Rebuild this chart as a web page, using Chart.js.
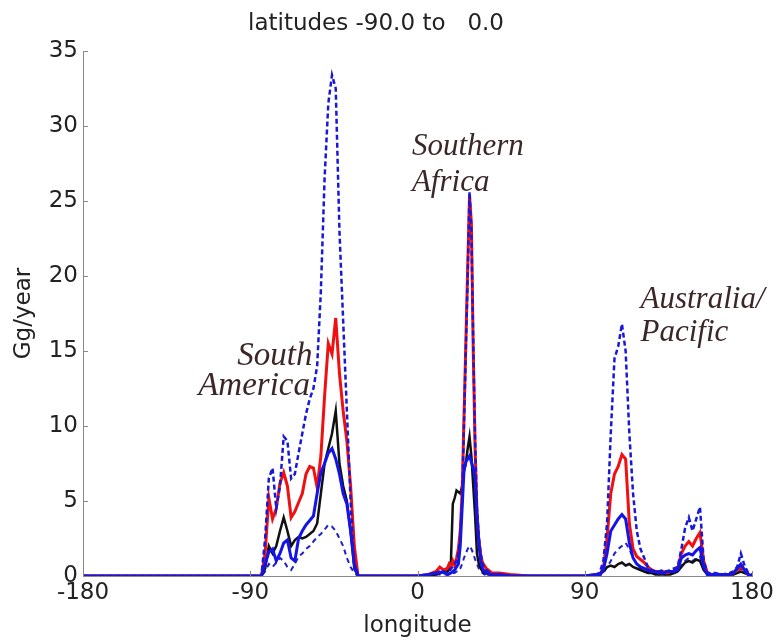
<!DOCTYPE html>
<html><head><meta charset="utf-8">
<script src="https://cdn.jsdelivr.net/npm/chart.js@4.4.1/dist/chart.umd.min.js"></script>
<style>html,body{margin:0;padding:0;background:#fff;}#wrap{width:778px;height:641px;}</style>
</head><body><div id="wrap"><canvas id="c" width="778" height="641"></canvas></div>
<script>
// longitude grid (degrees)
const lon = [
  -180,-160,-140,-120,-100,-90,-86,
  -84,-82,-80,-78,-76,-74,-72,-70,-68,-66,-64,-62,-60,-58,-56,-54,-52,-50,-48,-46,-44,-42,-40,-38,-36,-34,-32,
  -28,-20,-10,0,6,10,12,14,
  16,17,18,19,20,21,22,23,24,25,26,27,28,29,30,31,32,33,34,35,36,37,38,39,40,
  44,50,60,70,80,90,96,
  98,100,102,104,106,108,110,112,114,116,118,120,122,124,126,128,130,132,134,136,138,140,142,144,146,148,150,152,154,156,158,160,
  164,168,170,172,174,176,178,180
];
// upper blue dashed series
const blueDashedHigh = [
  0,0,0,0,0,0,0,
  0,2.5,6.5,7.2,4.5,6,9.3,9,6.5,6.8,8.2,9.5,10.8,11.8,12.5,14,19,26.5,31.5,33.4,32.5,23,17,11,5,0.5,0,
  0,0,0,0,0.1,0.2,0.3,0.2,
  0.2,0.3,0.5,0.6,0.8,1.0,1.5,2.6,5,10,15,20,25.6,23,15.5,9,4.5,2.6,1.5,0.8,0.5,0.4,0.3,0.2,0.1,
  0.1,0,0,0,0,0,0.1,
  0.2,1,3.5,9.5,14.5,15.3,16.8,15,9.5,5.5,3,1.8,1.2,0.6,0.4,0.3,0.3,0.4,0.3,0.4,0.5,0.6,1.8,3.2,3.9,3,3.8,4.6,1,0.2,0.2,0.2,
  0.1,0.2,0.3,0.6,1.5,0.7,0.2,0.1
];
// red solid series
const redSolid = [
  0,0,0,0,0,0,0,
  0,1.5,5.2,3.8,4.5,6.2,6.9,6,3.9,4.3,4.9,5.5,6.8,7.3,7.2,5.9,8,12,15.5,14.8,17.2,13.5,11,9,6,2,0,
  0,0,0,0,0.1,0.3,0.6,0.4,
  0.5,0.8,0.6,1.0,0.7,1.2,1.8,3.0,5.5,10.5,15.5,20.5,25.4,23.5,15,8.5,4.2,2.4,1.4,0.9,0.7,0.5,0.4,0.3,0.2,
  0.2,0.1,0,0,0,0,0.1,
  0.1,0.5,2.5,5.5,6.8,7.3,8.1,7.8,3.5,1.8,1.3,1.1,0.9,0.6,0.4,0.3,0.3,0.3,0.2,0.3,0.3,0.5,1.5,2,2.3,2,2.5,2.9,1,0.2,0.1,0.1,
  0,0.1,0.2,0.4,0.6,0.4,0.1,0
];
// black solid series
const blackSolid = [
  0,0,0,0,0,0,0,
  0,0.5,2,1.5,2,3,3.9,3,2,2.4,2.6,2.5,2.6,2.8,3,3.5,5.5,7.5,8.5,9.5,11,7.5,6,5,3,0.5,0,
  0,0,0,0,0,0.1,0.2,0.3,
  0.3,0.4,1.0,4.8,5.2,5.7,5.6,5.5,6.0,7.0,7.5,8.5,9.3,8.0,6.0,4.0,1.5,0.8,0.5,0.3,0.2,0.2,0.1,0.1,0.1,
  0.1,0,0,0,0,0,0,
  0.1,0.3,0.6,0.7,0.6,0.8,0.9,0.7,0.8,0.6,0.5,0.4,0.3,0.2,0.2,0.1,0.1,0.1,0.1,0.1,0.2,0.3,0.6,0.9,1.0,0.9,1.1,1.0,0.4,0.1,0,0,
  0,0.1,0.1,0.2,0.3,0.2,0.1,0
];
// blue solid series
const blueSolid = [
  0,0,0,0,0,0,0,
  0,0.8,1.6,1.8,1.0,1.5,2.2,2.4,1.2,1.0,2.5,3,3.4,3.7,4,5.5,6.9,7.5,8.2,8.5,7.8,6.8,5.5,4.8,3,0.8,0,
  0,0,0,0,0.1,0.2,0.2,0.3,
  0.1,0.15,0.2,0.3,0.4,0.6,0.8,2.0,4.5,7.0,7.6,7.8,8.0,7.6,7.2,6.5,4.0,2.2,1.0,0.5,0.3,0.2,0.2,0.1,0.1,
  0.1,0,0,0,0,0,0.1,
  0.1,0.4,1.5,3,3.4,3.8,4.1,3.8,2.2,1.2,0.8,0.6,0.5,0.4,0.3,0.3,0.2,0.2,0.3,0.3,0.3,0.4,1.2,1.4,1.5,1.4,1.7,1.9,0.6,0.1,0.1,0.1,
  0.1,0.1,0.2,0.5,0.8,0.4,0.1,0
];
// lower blue dashed series
const blueDashedLow = [
  0,0,0,0,0,0,0,
  0,0.3,0.8,0.6,0.9,1.2,1.0,0.6,0.4,0.8,1.3,1.5,1.8,2.0,2.3,2.6,2.8,3.1,3.4,3.3,3.0,2.5,2.0,1.2,0.6,0.2,0,
  0,0,0,0,0,0.1,0.1,0.1,
  0.1,0.1,0.1,0.2,0.2,0.3,0.3,0.5,0.8,1.2,1.5,1.8,2.0,1.8,1.5,1.1,0.8,0.5,0.3,0.2,0.1,0.1,0.1,0.1,0,
  0,0,0,0,0,0,0,
  0,0.2,0.6,1,1.5,1.8,2,2.2,1.8,1.2,0.8,0.5,0.4,0.3,0.2,0.2,0.1,0.1,0.1,0.2,0.2,0.3,0.7,1,1.2,1,1.2,1.3,0.4,0.1,0,0,
  0,0.1,0.1,0.3,0.5,0.3,0.1,0
];
const xTicks = [-180, -90, 0, 90, 180];
const yTicks = [0, 5, 10, 15, 20, 25, 30, 35];
const regionNames = ['South', 'America', 'Southern', 'Africa', 'Australia/', 'Pacific'];

const pts = arr => lon.map((x, i) => ({x: x, y: arr[i]}));
const FONT = "'DejaVu Sans', 'Liberation Sans', sans-serif";

const labelPlugin = {
  id: 'regionLabels',
  afterDatasetsDraw(chart) {
    const {ctx, scales: {x, y}} = chart;
    const anchors = [[-97, 14.1], [-118, 12.1], [-3, 28.1], [-3, 25.7], [120, 17.9], [120, 15.7]];
    ctx.save();
    ctx.fillStyle = '#3b2727';
    ctx.textBaseline = 'alphabetic';
    ctx.textAlign = 'left';
    regionNames.forEach((t, i) => {
      ctx.font = (i < 2 ? "italic 33px " : "italic 31px ") + "'Liberation Serif', 'DejaVu Serif', serif";
      ctx.fillText(t, x.getPixelForValue(anchors[i][0]), y.getPixelForValue(anchors[i][1]));
    });
    ctx.restore();
  }
};
const tickPlugin = {
  id: 'innerTicks',
  afterDraw(chart) {
    const {ctx, scales: {x, y}} = chart;
    ctx.save();
    ctx.strokeStyle = '#8a8a8a';
    ctx.lineWidth = 1;
    ctx.beginPath();
    yTicks.forEach(v => { const py = Math.round(y.getPixelForValue(v)) + 0.5; ctx.moveTo(x.left, py); ctx.lineTo(x.left + 5, py); });
    xTicks.forEach(v => { const px = Math.round(x.getPixelForValue(v)) + 0.5; ctx.moveTo(px, y.bottom); ctx.lineTo(px, y.bottom - 5); });
    ctx.stroke();
    ctx.restore();
  }
};

new Chart(document.getElementById('c'), {
  type: 'line',
  data: {
    datasets: [
      {label: 'blue dashed high', data: pts(blueDashedHigh), borderColor: '#1818d8', borderWidth: 2.5, borderDash: [5, 3], order: 0},
      {label: 'blue solid', data: pts(blueSolid), borderColor: '#1414e8', borderWidth: 3, order: 1},
      {label: 'red solid', data: pts(redSolid), borderColor: '#f01010', borderWidth: 3, order: 2},
      {label: 'black solid', data: pts(blackSolid), borderColor: '#111111', borderWidth: 2.5, order: 3},
      {label: 'blue dashed low', data: pts(blueDashedLow), borderColor: '#2020c8', borderWidth: 2, borderDash: [5, 4], order: 4}
    ]
  },
  options: {
    responsive: false,
    animation: false,
    devicePixelRatio: 1,
    layout: {padding: {left: 0, right: 26, top: 0, bottom: 0}},
    elements: {point: {radius: 0}, line: {tension: 0, fill: false}},
    plugins: {
      legend: {display: false},
      tooltip: {enabled: false},
      title: {display: true, text: 'latitudes -90.0 to   0.0', color: '#222',
        font: {family: FONT, size: 23, weight: 'normal'}, padding: {top: 10, bottom: 13.4}}
    },
    scales: {
      x: {
        type: 'linear', min: -180, max: 180,
        afterBuildTicks: s => { s.ticks = xTicks.map(v => ({value: v})); },
        ticks: {color: '#222', font: {family: FONT, size: 23}, padding: 3, maxRotation: 0, autoSkip: false},
        grid: {display: false, drawTicks: false},
        border: {display: true, color: '#8a8a8a', width: 1},
        title: {display: true, text: 'longitude', color: '#222', font: {family: FONT, size: 23}, padding: {top: 0, bottom: 1}},
        afterFit: s => { s.height = 65; }
      },
      y: {
        type: 'linear', min: 0, max: 35,
        afterBuildTicks: s => { s.ticks = yTicks.map(v => ({value: v})); },
        ticks: {color: '#222', font: {family: FONT, size: 23}, padding: 5},
        grid: {display: false, drawTicks: false},
        border: {display: true, color: '#8a8a8a', width: 1},
        title: {display: true, text: 'Gg/year', color: '#222', font: {family: FONT, size: 23}, padding: {top: 10, bottom: 0}},
        afterFit: s => { s.width = 83; }
      }
    }
  },
  plugins: [labelPlugin, tickPlugin]
});
</script></body></html>
